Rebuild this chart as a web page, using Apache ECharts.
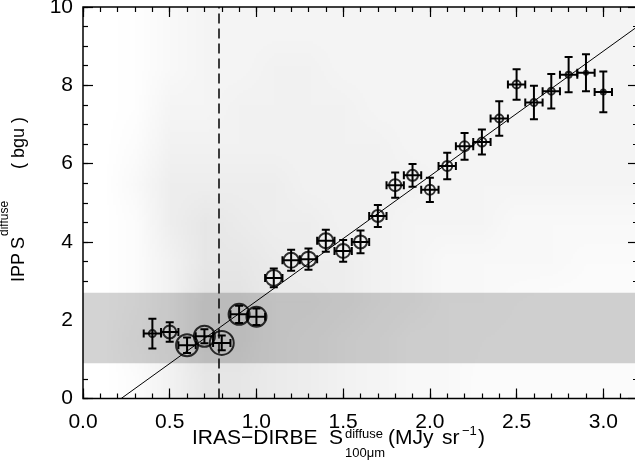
<!DOCTYPE html>
<html lang="en">
<head>
<meta charset="UTF-8">
<title>IPP vs IRAS-DIRBE</title>
<script src="https://cdn.jsdelivr.net/npm/echarts@6/dist/echarts.min.js"></script>
<style>
  html, body { margin: 0; padding: 0; background: #fff; }
  #main { width: 635px; height: 471px; }
</style>
</head>
<body>
<div id="main"></div>
<script>
// binned points (x bin centre, mean y, errors, circle weight)
var binX = [0.4, 0.5, 0.6, 0.7, 0.8, 0.9, 1.0, 1.1, 1.2, 1.3, 1.4, 1.5, 1.6, 1.7,
            1.8, 1.9, 2.0, 2.1, 2.2, 2.3, 2.4, 2.5, 2.6, 2.7, 2.8, 2.9, 3.0];
var binY = [1.66, 1.70, 1.36, 1.59, 1.42, 2.15, 2.09, 3.08, 3.53, 3.56, 4.03, 3.77, 4.00, 4.66,
            5.45, 5.70, 5.33, 5.94, 6.44, 6.55, 7.15, 8.02, 7.56, 7.85, 8.27, 8.32, 7.83];
var binYErr = [0.38, 0.25, 0.20, 0.18, 0.19, 0.22, 0.21, 0.24, 0.27, 0.27, 0.28, 0.28, 0.29, 0.28,
               0.32, 0.29, 0.31, 0.34, 0.34, 0.32, 0.44, 0.39, 0.43, 0.44, 0.45, 0.47, 0.52];
var binXErr = [0.05, 0.05, 0.05, 0.05, 0.05, 0.05, 0.05, 0.05, 0.05, 0.05, 0.05, 0.05, 0.05, 0.05,
               0.05, 0.05, 0.05, 0.05, 0.05, 0.05, 0.05, 0.05, 0.05, 0.05, 0.05, 0.05, 0.05];
var binWeight = [3.5, 6.5, 11, 10.5, 12, 10.5, 10, 8, 7.5, 7.5, 7.5, 7, 6.5, 6,
                 6, 5.5, 5, 5, 5, 4.5, 4, 4, 3.5, 3.5, 3, 2, 2.5];

// linear fit, shaded band and cut
var fitLine = [[0.22, 0], [3.2, 9.51]];
var bandY = [0.9, 2.7];
var cutX = 0.78;

// pixel cloud, point density per 0.2 x 1.0 cell (rows from y=0 upwards)
var cellW = 0.2, cellH = 1;
var cloudDensity = [
  [0, 1, 4, 7, 7, 6, 5, 4, 3, 2, 2, 1, 1, 1, 1, 1],
  [0, 2, 4, 8, 8, 6, 5, 4, 3, 2, 2, 1.5, 1, 1, 1, 1],
  [0, 1, 4, 8, 8, 6, 6, 5, 4, 3, 2, 2, 1.5, 1, 1, 1],
  [0, 1, 4, 7, 7, 6, 5, 5, 4, 3, 2, 2, 2, 2, 1.5, 1.5],
  [0, 1, 5, 7, 6, 5, 5, 4, 4, 3, 3, 3, 2, 2, 2, 2],
  [0, 2, 5, 5, 5, 5, 4, 4, 4, 4, 3, 3, 3, 3, 3, 3],
  [0, 1, 4, 4, 4, 4, 4, 4, 4, 3, 3, 3, 3, 3, 3, 3],
  [0, 0.5, 3, 3, 4, 4, 4, 4, 3, 3, 3, 3, 3, 3, 3, 3],
  [0, 0.5, 2, 3, 3, 4, 4, 3, 3, 3, 3, 3, 3, 3, 3, 3],
  [0, 0.5, 2, 3, 3, 3, 3, 3, 3, 3, 3, 3, 3, 3, 3, 3]
];

var myChart = echarts.init(document.getElementById('main'));

// density grid -> tiny image, one pixel per cell, smoothed when scaled up
var nRows = cloudDensity.length, nCols = cloudDensity[0].length;
var cloudImg = document.createElement('canvas');
cloudImg.width = nCols;
cloudImg.height = nRows;
(function () {
  var ctx = cloudImg.getContext('2d');
  var img = ctx.createImageData(nCols, nRows);
  cloudDensity.forEach(function (row, r) {
    row.forEach(function (d, c) {
      var k = ((nRows - 1 - r) * nCols + c) * 4;
      img.data[k + 3] = Math.round(255 * d * 0.014);
    });
  });
  ctx.putImageData(img, 0, 0);
})();

var bins = binX.map(function (x, i) {
  return [x, binY[i], binXErr[i], binYErr[i], binWeight[i]];
});

var FONT = '"Liberation Sans", Arial, sans-serif';

function renderCloud(params, api) {
  var a = api.coord([0, nRows * cellH]);
  var b = api.coord([nCols * cellW, 0]);
  return {
    type: 'image',
    style: { image: cloudImg, x: a[0], y: a[1], width: b[0] - a[0], height: b[1] - a[1] }
  };
}

function seg(x1, y1, x2, y2) {
  return { type: 'line', shape: { x1: x1, y1: y1, x2: x2, y2: y2 },
           style: { stroke: '#000', lineWidth: 2, fill: null } };
}

function renderErr(params, api) {
  var x = api.value(0), y = api.value(1), ex = api.value(2), ey = api.value(3);
  var t = api.coord([x, y + ey]), b = api.coord([x, y - ey]);
  var l = api.coord([x - ex, y]), r = api.coord([x + ex, y]);
  var c = 4;
  return {
    type: 'group',
    children: [
      seg(t[0], t[1], b[0], b[1]),
      seg(t[0] - c, t[1], t[0] + c, t[1]),
      seg(b[0] - c, b[1], b[0] + c, b[1]),
      seg(l[0], l[1], r[0], r[1]),
      seg(l[0], l[1] - c, l[0], l[1] + c),
      seg(r[0], r[1] - c, r[0], r[1] + c)
    ]
  };
}

// ticks point into the plot: each tick axis sits tickLen inside the frame
// and draws its ticks outwards up to the frame (grid border = frame)
// grid 0: data + major ticks, grid 1 (same box): minor ticks
function xAxisOf(grid, pos, step, tickLen, labels) {
  return {
    type: 'value', gridIndex: grid, min: 0, max: 3.2, interval: step, position: pos,
    offset: -tickLen,
    axisLine: { show: false, onZero: false },
    axisTick: { show: true, length: tickLen, lineStyle: { color: '#000', width: 1.2 } },
    splitLine: { show: false },
    axisLabel: {
      show: labels, margin: 13 + tickLen, color: '#000', fontSize: 21, fontFamily: FONT,
      formatter: function (v) { return v > 3.05 ? '' : v.toFixed(1); }
    }
  };
}

function yAxisOf(grid, pos, step, tickLen, labels) {
  return {
    type: 'value', gridIndex: grid, min: 0, max: 10, interval: step, position: pos,
    offset: -tickLen,
    axisLine: { show: false, onZero: false },
    axisTick: { show: true, length: tickLen, lineStyle: { color: '#000', width: 1.2 } },
    splitLine: { show: false },
    axisLabel: { show: labels, margin: 10 + tickLen, color: '#000', fontSize: 21, fontFamily: FONT }
  };
}

var gridBox = {
  left: 83, top: 7, width: 555, height: 391.5, containLabel: false, outerBoundsMode: 'none',
  show: true, z: 10, backgroundColor: 'transparent', borderColor: '#000', borderWidth: 1.5
};

function txt(x, y, s, size) {
  return { type: 'text', x: x, y: y,
           style: { text: s, font: size + 'px ' + FONT, fill: '#000', align: 'left', verticalAlign: 'middle' } };
}

var option = {
  animation: false,
  backgroundColor: '#fff',
  grid: [gridBox, Object.assign({}, gridBox, { show: false })],
  xAxis: [
    xAxisOf(0, 'bottom', 0.5, 10, true),
    xAxisOf(0, 'top', 0.5, 10, false),
    xAxisOf(1, 'bottom', 0.1, 5, false),
    xAxisOf(1, 'top', 0.1, 5, false)
  ],
  yAxis: [
    yAxisOf(0, 'left', 2, 10, true),
    yAxisOf(0, 'right', 2, 10, false),
    yAxisOf(1, 'left', 0.5, 5, false),
    yAxisOf(1, 'right', 0.5, 5, false)
  ],
  series: [
    {
      // shaded band
      type: 'line', data: [], z: 1, silent: true,
      markArea: {
        silent: true,
        itemStyle: { color: '#d3d3d3' },
        data: [[{ yAxis: bandY[0] }, { yAxis: bandY[1] }]]
      }
    },
    {
      type: 'custom', z: 2, silent: true, clip: true,
      renderItem: renderCloud, data: [[0, 0]]
    },
    {
      type: 'line', z: 3, silent: true, data: fitLine, symbol: 'none',
      lineStyle: { color: '#000', width: 1 },
      markLine: {
        silent: true, symbol: 'none', label: { show: false },
        lineStyle: { color: '#000', width: 1.5, type: [10, 5] },
        data: [{ xAxis: cutX }]
      }
    },
    {
      type: 'custom', z: 4, silent: true, clip: true,
      renderItem: renderErr, data: bins
    },
    {
      type: 'scatter', z: 5, silent: true, data: bins,
      symbol: 'circle',
      symbolSize: function (v) { return v[4] * 2; },
      itemStyle: { color: 'rgba(0,0,0,0)', borderColor: '#000', borderWidth: 2 }
    }
  ],
  graphic: [
    {
      type: 'group', x: 19, y: 282, rotation: Math.PI / 2, silent: true,
      children: [
        txt(0, 0, 'IPP', 18),
        txt(33, 0, 'S', 18),
        txt(46, -14, 'diffuse', 12),
        txt(113, 0, '( bgu )', 18)
      ]
    },
    {
      type: 'group', x: 0, y: 0, silent: true,
      children: [
        txt(192, 438, 'IRAS\u2212DIRBE', 21),
        txt(329, 438, 'S', 21),
        txt(345, 434, 'diffuse', 13),
        txt(345, 453, '100\u03bcm', 13),
        txt(388, 438, '(MJy', 21),
        txt(442, 438, 'sr', 21),
        txt(462, 431, '\u22121', 13),
        txt(478, 438, ')', 21)
      ]
    }
  ]
};

myChart.setOption(option);
</script>
</body>
</html>
